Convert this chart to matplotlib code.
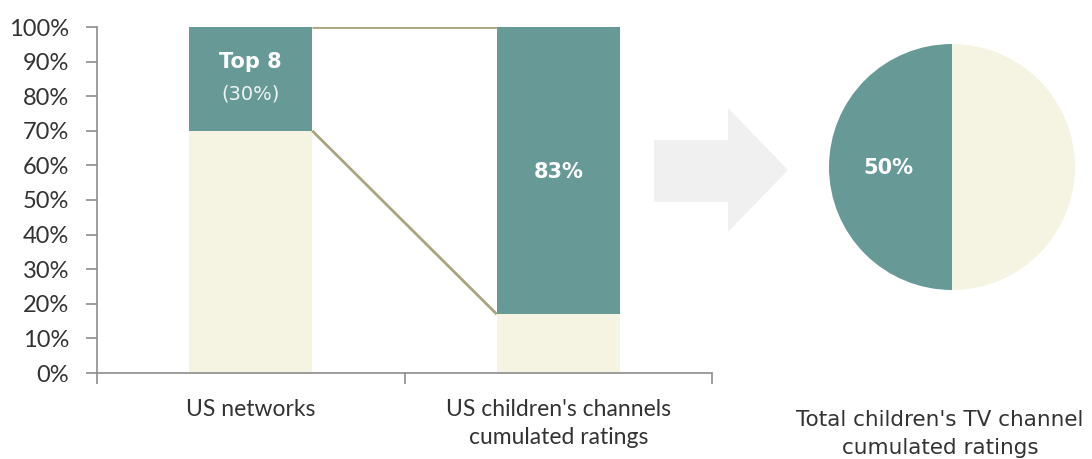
import matplotlib
matplotlib.use("Agg")
import matplotlib.pyplot as plt
from matplotlib.patches import Polygon

plt.rcParams['font.family'] = ['Lato', 'DejaVu Sans']

# data
categories = ["US networks", "US children's channels\ncumulated ratings"]
top_share = [30, 83]            # teal segment (top 8 / cumulated)
rest_share = [70, 17]           # cream segment
bar_labels = ["Top 8", "83%"]
pie_values = [50, 50]
pie_label = "50%"
pie_title = "Total children's TV channel\ncumulated ratings"
yticks = [0, 10, 20, 30, 40, 50, 60, 70, 80, 90, 100]

teal = "#679a97"
cream = "#f5f4e2"
link = "#a9a47f"
txt = "#333333"

fig = plt.figure(figsize=(10.92, 4.59), dpi=100)

# left: stacked bars
ax = fig.add_axes([97 / 1092, 86 / 459, 615 / 1092, 346 / 459])
xpos = [0.5, 1.5]
w = 0.4
ax.bar(xpos, rest_share, width=w, color=cream, zorder=2)
ax.bar(xpos, top_share, width=w, bottom=rest_share, color=teal, zorder=2)

# connector lines between the bars
ax.plot([xpos[0] + w / 2, xpos[1] - w / 2],
        [rest_share[0] + top_share[0], rest_share[1] + top_share[1]],
        color=link, lw=2, zorder=3, solid_capstyle='butt')
ax.plot([xpos[0] + w / 2, xpos[1] - w / 2], [rest_share[0], rest_share[1]],
        color=link, lw=2, zorder=3, solid_capstyle='butt')

ax.text(xpos[0], rest_share[0] + top_share[0] - 10, bar_labels[0], ha='center', va='center',
        color='white', fontsize=15, fontweight='bold', family=['DejaVu Sans'])
ax.text(xpos[0], rest_share[0] + top_share[0] - 19.5, "(%d%%)" % top_share[0], ha='center',
        va='center', color='#eef3f2', fontsize=14, family=['DejaVu Sans'])
ax.text(xpos[1], 58, bar_labels[1], ha='center', va='center',
        color='white', fontsize=15, fontweight='bold', family=['DejaVu Sans'])

ax.set_xlim(0, 2)
ax.set_ylim(0, 100)
ax.set_yticks(yticks)
ax.set_yticklabels(["%d%%" % v for v in yticks])
ax.set_xticks([0, 1, 2])
ax.set_xticklabels([])
ax.set_xticks(xpos, minor=True)
ax.set_xticklabels(categories, minor=True, linespacing=1.4)
ax.tick_params(axis='x', which='minor', length=0, pad=19, labelsize=16.5, labelcolor=txt)
ax.tick_params(axis='x', which='major', length=8, width=1.2, color='#8c8c8c', direction='out')
ax.tick_params(axis='y', length=8, width=1.2, color='#8c8c8c', pad=12, labelsize=17, labelcolor=txt)
for s in ['top', 'right']:
    ax.spines[s].set_visible(False)
for s in ['left', 'bottom']:
    ax.spines[s].set_color('#8c8c8c')
    ax.spines[s].set_linewidth(1.2)

# arrow
arrow_px = [(654, 140), (728, 140), (728, 108), (788, 170), (728, 232), (728, 202), (654, 202)]
fig.add_artist(Polygon([(x / 1092, 1 - y / 459) for x, y in arrow_px], closed=True,
                       transform=fig.transFigure, facecolor='#f0f0f0', edgecolor='none'))

# right: pie
pax = fig.add_axes([829 / 1092, 169 / 459, 246 / 1092, 246 / 459])
pax.pie(pie_values, colors=[teal, cream], startangle=90, counterclock=True,
        wedgeprops=dict(linewidth=0))
pax.set_xlim(-1, 1)
pax.set_ylim(-1, 1)
pax.set_aspect('equal')
pax.axis('off')
pax.text(-0.52, -0.01, pie_label, ha='center', va='center', color='white',
         fontsize=15, fontweight='bold', family=['DejaVu Sans'])

fig.text(940 / 1092, 1 - 434 / 459, pie_title, ha='center', va='center', fontsize=15.5,
         color=txt, family=['DejaVu Sans'], linespacing=1.45)

fig.savefig("out.png", dpi=100)
